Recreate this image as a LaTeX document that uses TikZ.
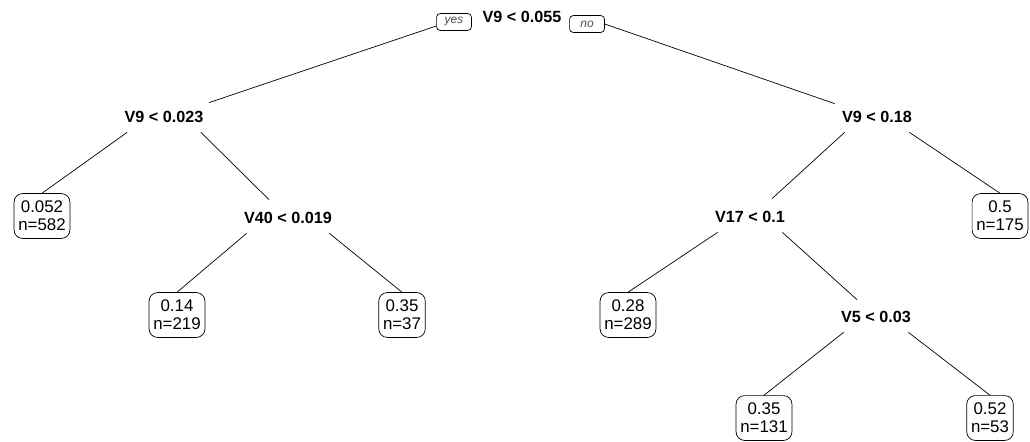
\documentclass[tikz,border=0pt]{standalone}
\usepackage{fontspec}
\setmainfont{Liberation Sans}
\usetikzlibrary{arrows.meta}

\begin{document}
\begin{tikzpicture}[x=0.025cm,y=-0.025cm,line width=0.5pt,
split/.style={font=\bfseries\fontsize{11.5}{13}\selectfont,inner xsep=-2pt,inner ysep=0pt,minimum height=0.75cm},
leaf/.style={draw,rounded corners=6pt,align=center,font=\fontsize{12}{13}\selectfont,inner xsep=3pt,inner ysep=3pt,minimum height=1.12cm},
tag/.style={draw,rounded corners=2.5pt,font=\itshape\fontsize{8.5}{9}\selectfont,text=black!70,inner sep=1pt,minimum width=0.87cm,minimum height=0.42cm}]
\useasboundingbox (0,0) rectangle (1030,441);
\node[split](root) at (522,17){V9 < 0.055};
\node[tag](yes) at (454,22){yes};
\node[tag](no) at (587,24){no};
\node[split](v9l) at (164,117){V9 < 0.023};
\node[split](v9r) at (877,117){V9 < 0.18};
\node[leaf](l1) at (42,216){0.052\\n=582};
\node[split](v40) at (288,218){V40 < 0.019};
\node[leaf](l2) at (177,315){0.14\\n=219};
\node[leaf](l3) at (402,315){0.35\\n=37};
\node[split](v17) at (750,217){V17 < 0.1};
\node[leaf](l4) at (1000,216){0.5\\n=175};
\node[leaf](l5) at (628,315){0.28\\n=289};
\node[split](v5) at (876,317){V5 < 0.03};
\node[leaf](l6) at (764,418){0.35\\n=131};
\node[leaf](l7) at (990,418){0.52\\n=53};
% branches
\draw([yshift=-0.1cm]yes.west)--([shift={(8,1)}]v9l.north east);
\draw(no.east)--([shift={(-10,2)}]v9r.north west);
\draw(v9l.south west)--(l1.north);
\draw(v9l.south east)--([shift={(-19,-3)}]v40.north);
\draw(v40.south west)--(l2.north);
\draw(v40.south east)--(l3.north);
\draw(v9r.south west)--([shift={(22,-3)}]v17.north);
\draw(v9r.south east)--(l4.north);
\draw(v17.south west)--(l5.north);
\draw(v17.south east)--([shift={(-19,-2)}]v5.north);
\draw(v5.south west)--(l6.north);
\draw(v5.south east)--(l7.north);
\end{tikzpicture}
\end{document}
